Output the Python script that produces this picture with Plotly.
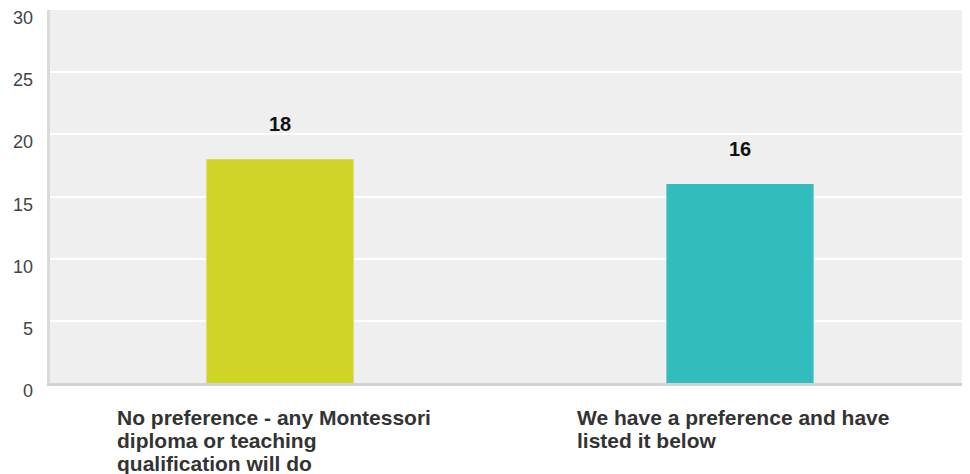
import plotly.graph_objects as go

categories = ["No preference - any Montessori diploma or teaching qualification will do",
              "We have a preference and have listed it below"]
category_lines = [["No preference - any Montessori", "diploma or teaching", "qualification will do"],
                  ["We have a preference and have", "listed it below"]]
values = [18, 16]
colors = ["#cfd427", "#33bcbe"]
yticks = [0, 5, 10, 15, 20, 25, 30]

FONT = "Arial, 'Liberation Sans', sans-serif"
xs = [0, 1]

fig = go.Figure(go.Bar(x=xs, y=values, marker=dict(color=colors, line=dict(width=0)), width=0.32,
                       hoverinfo="skip"))

for x, v, lines in zip(xs, values, category_lines):
    fig.add_annotation(x=x, y=v, text=f"<b>{v}</b>", showarrow=False, yanchor="bottom", yshift=22,
                       font=dict(family=FONT, size=20, color="#111"))
    for i, line in enumerate(lines):
        fig.add_annotation(x=x, y=0, yref="paper", text=f"<b>{line}</b>", showarrow=False,
                           yanchor="middle", xanchor="left", align="left",
                           xshift=-165, yshift=-(34 + 23 * i),
                           font=dict(family=FONT, size=21, color="#333"))

for t in yticks:
    fig.add_annotation(x=0, xref="paper", y=t, text=str(t), showarrow=False, xanchor="right",
                       yanchor="middle", xshift=-15, yshift=-8,
                       font=dict(family=FONT, size=18, color="#444"))

fig.update_layout(
    autosize=False,
    width=962, height=474,
    margin=dict(l=42, r=0, t=2, b=99, autoexpand=False),
    paper_bgcolor="white", plot_bgcolor="#efefef",
    showlegend=False,
    font=dict(family=FONT),
    xaxis=dict(range=[-0.5, 1.5], showticklabels=False, showgrid=False, zeroline=False,
               showline=True, linecolor="#d2d2d2", linewidth=3, fixedrange=True, automargin=False),
    yaxis=dict(range=[0, 30], tickvals=yticks, showticklabels=False, showgrid=True,
               gridcolor="white", gridwidth=2, zeroline=False, showline=True,
               linecolor="#dadada", linewidth=3, ticks="", fixedrange=True, automargin=False),
)

fig.write_html("out.html")
